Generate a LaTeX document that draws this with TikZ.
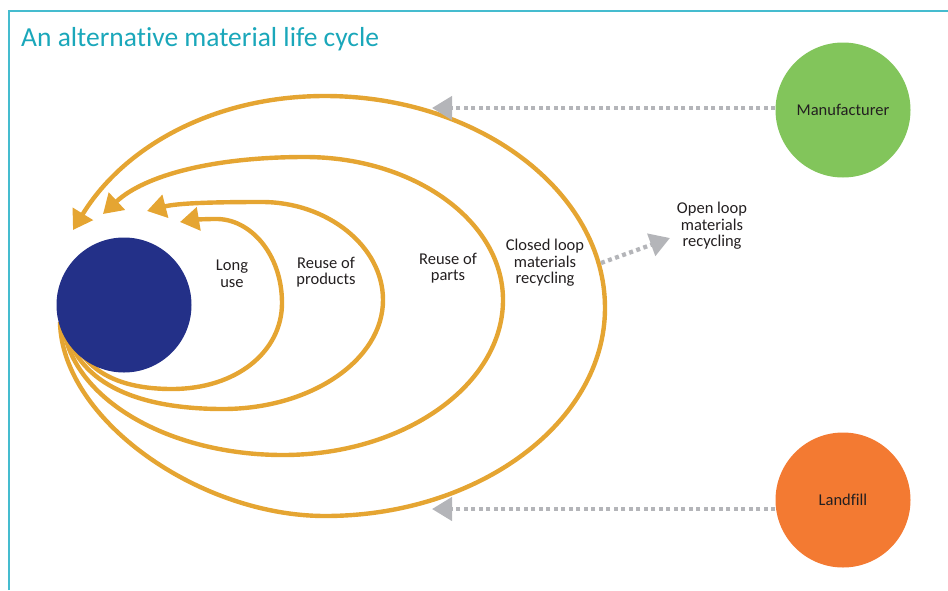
\documentclass[tikz,border=0pt]{standalone}
\usepackage{fontspec}
\setmainfont{Carlito}[Ligatures=NoCommon]
\usetikzlibrary{arrows.meta}
\usetikzlibrary{positioning}
\definecolor{titleteal}{HTML}{1AA7BA}
\definecolor{frameteal}{HTML}{45BCCF}
\definecolor{loopgold}{HTML}{E5A532}
\definecolor{usernavy}{HTML}{233088}
\definecolor{makergreen}{HTML}{82C55B}
\definecolor{dumporange}{HTML}{F37A32}
\definecolor{flowgray}{HTML}{B4B5B9}
\definecolor{labelink}{HTML}{231F20}

\begin{document}
\begin{tikzpicture}[x=1pt,y=-1pt,
  lifeloop/.style={draw=loopgold,line width=4.4pt,-{Triangle[length=19pt,width=23pt]}},
  grayflow/.style={draw=flowgray,line width=4.3pt,dash pattern=on 4pt off 3.5pt,-{Triangle[length=20pt,width=23pt]}},
  disc/.style={circle,minimum size=135pt,inner sep=0pt,text=labelink,font=\fontsize{16.5}{16.5}\selectfont},
  looplabel/.style={align=center,inner sep=0pt,text=labelink,font=\fontsize{16.5}{16.5}\selectfont}]
\useasboundingbox (0,0) rectangle (948,590);
\draw[frameteal,line width=2pt] (9,590) -- (9,11) -- (948,11);
\node at (21,46)[anchor=base west,inner sep=0pt,text=titleteal,font=\fontsize{27.5}{27.5}\selectfont](title){An alternative material life cycle};
\coordinate (s1) at (72,335);
\coordinate (s2) at (66,330);
\coordinate (s3) at (63,325);
\coordinate (s4) at (60,322);
\coordinate (e1) at (180,222);
\coordinate (e2) at (147,211);
\coordinate (e3) at (103,214);
\coordinate (e4) at (73,230);
\draw[lifeloop] (s4) .. controls (62,420) and (200,516) .. (325,516) .. controls (479,516) and (605,422) .. (605,308) .. controls (605,192) and (479,96) .. (325,96) .. controls (216,96) and (125,145) .. (e4);
\draw[lifeloop] (s3) .. controls (72,400) and (170,455) .. (283,455) .. controls (404,455) and (503,385) .. (503,300) .. controls (503,221) and (414,157) .. (305,157) .. controls (214,157) and (145,175) .. (e3);
\draw[lifeloop] (s2) .. controls (80,385) and (140,409) .. (223,409) .. controls (311,409) and (383,360) .. (383,300) .. controls (383,246) and (327,202) .. (262,202) .. controls (215,202) and (178,203) .. (e2);
\draw[lifeloop] (s1) .. controls (85,372) and (120,389) .. (172,389) .. controls (236,389) and (282,352) .. (282,303) .. controls (282,254) and (250,218) .. (215,219) .. controls (203,219) and (192,220) .. (e1);
\node at (124,305)[disc,fill=usernavy](user){};
\node at (843,110)[disc,fill=makergreen](maker){Manufacturer};
\node at (843,500)[disc,fill=dumporange](landfill){Landfill};
\coordinate (makertip) at (432,108);
\coordinate (landtip) at (432,509);
\coordinate (openstart) at (601,263);
\coordinate (opentip) at (670,238);
\draw[grayflow] (maker.west |- makertip) -- (makertip);
\draw[grayflow] (landfill.west |- landtip) -- (landtip);
\draw[grayflow] (openstart) -- (opentip);
\node at (232,274)[looplabel](longuse){Long\\use};
\node at (326,272)[looplabel](products){Reuse of\\products};
\node at (448,268)[looplabel](parts){Reuse of\\parts};
\node at (545,263)[looplabel](closedloop){Closed loop\\materials\\recycling};
\node at (712,226)[looplabel](openloop){Open loop\\materials\\recycling};
\end{tikzpicture}
\end{document}
